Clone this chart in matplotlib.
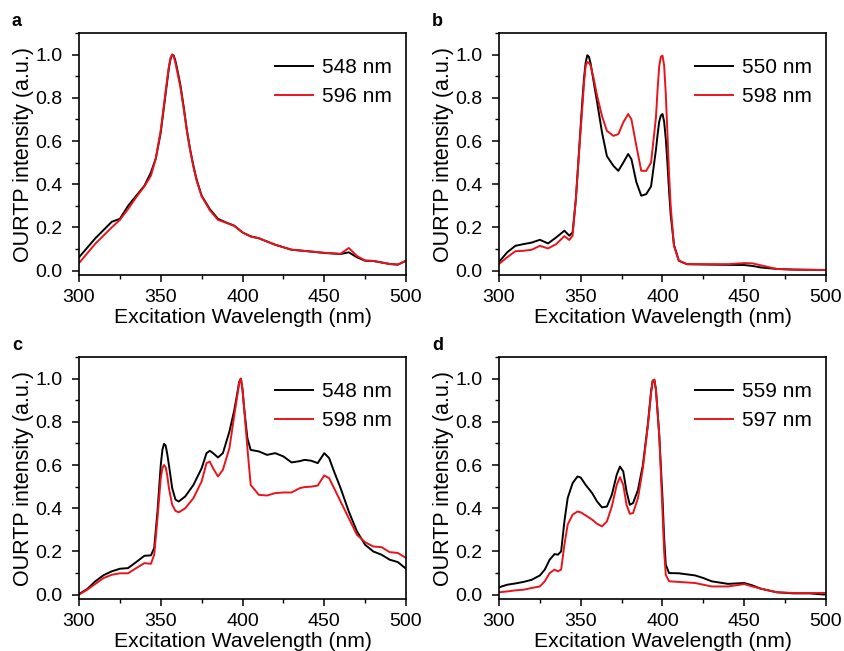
import numpy as np
import matplotlib.pyplot as plt
from matplotlib.ticker import MultipleLocator

plt.rcParams['font.family'] = ['Liberation Sans', 'DejaVu Sans']

# panel a
wl_a = [300, 310, 320, 325, 330, 335, 340, 344, 347, 350, 352, 354, 355, 356, 357, 358, 359, 360,
        362, 364, 366, 368, 370, 372, 375, 380, 385, 390, 395, 400, 405, 410, 420, 430, 440, 450,
        460, 465, 470, 475, 480, 490, 495, 500]
a_black = [0.062, 0.15, 0.226, 0.24, 0.30, 0.347, 0.393, 0.455, 0.52, 0.64, 0.76, 0.88, 0.94,
           0.98, 1.0, 0.995, 0.97, 0.935, 0.86, 0.76, 0.65, 0.56, 0.485, 0.42, 0.347, 0.285,
           0.24, 0.223, 0.208, 0.177, 0.159, 0.15, 0.12, 0.097, 0.09, 0.082, 0.077, 0.085,
           0.062, 0.046, 0.045, 0.031, 0.028, 0.046]
a_red = [0.035, 0.125, 0.2, 0.235, 0.285, 0.34, 0.39, 0.44, 0.52, 0.65, 0.77, 0.89, 0.945, 0.985,
         1.0, 0.99, 0.96, 0.925, 0.85, 0.75, 0.645, 0.555, 0.48, 0.415, 0.345, 0.28, 0.235,
         0.222, 0.207, 0.177, 0.158, 0.15, 0.12, 0.097, 0.09, 0.083, 0.078, 0.105, 0.068, 0.047,
         0.045, 0.031, 0.028, 0.046]

# panel b
wl_b = [300, 305, 310, 315, 320, 325, 330, 335, 340, 343, 345, 347, 349, 351, 352, 353, 354, 355,
        356, 358, 360, 363, 366, 370, 373, 376, 379, 381, 384, 387, 390, 393, 396, 397, 398, 399,
        400, 401, 402, 403, 404, 405, 407, 410, 415, 430, 440, 450, 455, 460, 470, 480, 500]
b_black = [0.04, 0.085, 0.115, 0.123, 0.13, 0.143, 0.126, 0.154, 0.185, 0.162, 0.177, 0.33, 0.56,
           0.79, 0.89, 0.963, 0.997, 0.99, 0.96, 0.87, 0.78, 0.64, 0.53, 0.485, 0.462, 0.50,
           0.54, 0.516, 0.41, 0.347, 0.354, 0.39, 0.56, 0.63, 0.69, 0.718, 0.725, 0.69, 0.61,
           0.50, 0.37, 0.26, 0.12, 0.046, 0.03, 0.028, 0.027, 0.026, 0.022, 0.015, 0.008,
           0.005, 0.003]
b_red = [0.031, 0.062, 0.09, 0.092, 0.097, 0.115, 0.103, 0.123, 0.16, 0.142, 0.162, 0.33, 0.55,
         0.76, 0.87, 0.947, 0.966, 0.962, 0.95, 0.886, 0.81, 0.715, 0.647, 0.624, 0.632, 0.686,
         0.725, 0.70, 0.578, 0.462, 0.462, 0.5, 0.71, 0.84, 0.947, 0.99, 0.995, 0.95, 0.82,
         0.64, 0.45, 0.30, 0.115, 0.046, 0.03, 0.03, 0.03, 0.035, 0.034, 0.025, 0.008, 0.005,
         0.003]

# panel c
wl_c = [300, 305, 310, 315, 320, 325, 330, 335, 340, 344, 346, 348, 350, 351, 352, 353, 354, 355,
        357, 359, 361, 365, 370, 375, 378, 380, 382, 385, 388, 392, 395, 397, 398, 399, 400, 401,
        403, 405, 410, 415, 420, 425, 430, 435, 438, 442, 446, 450, 453, 456, 460, 465, 470, 475,
        480, 485, 490, 495, 500]
c_black = [0.003, 0.026, 0.062, 0.09, 0.108, 0.12, 0.123, 0.151, 0.18, 0.182, 0.216, 0.385, 0.60,
           0.67, 0.698, 0.69, 0.65, 0.60, 0.493, 0.44, 0.431, 0.455, 0.508, 0.585, 0.655, 0.666,
           0.655, 0.635, 0.655, 0.755, 0.855, 0.94, 0.985, 1.0, 0.95, 0.863, 0.724, 0.67,
           0.663, 0.647, 0.655, 0.64, 0.612, 0.618, 0.624, 0.62, 0.609, 0.655, 0.632, 0.57,
           0.493, 0.385, 0.293, 0.231, 0.2, 0.185, 0.162, 0.151, 0.12]
c_red = [0.0, 0.023, 0.05, 0.077, 0.092, 0.099, 0.099, 0.123, 0.146, 0.143, 0.185, 0.354, 0.539,
         0.585, 0.60, 0.59, 0.55, 0.493, 0.416, 0.388, 0.381, 0.40, 0.447, 0.524, 0.609, 0.616,
         0.585, 0.547, 0.578, 0.678, 0.832, 0.93, 0.985, 1.0, 0.95, 0.863, 0.678, 0.508, 0.462,
         0.459, 0.47, 0.473, 0.473, 0.493, 0.498, 0.5, 0.505, 0.552, 0.539, 0.493, 0.431,
         0.354, 0.277, 0.243, 0.223, 0.22, 0.197, 0.193, 0.17]

# panel d
wl_d = [300, 305, 310, 315, 320, 325, 328, 331, 334, 336, 338, 340, 342, 345, 348, 350, 353, 357,
        360, 363, 366, 369, 372, 374, 376, 378, 380, 382, 385, 388, 391, 393, 394, 395, 396, 398,
        400, 401, 402, 404, 410, 420, 425, 430, 440, 450, 455, 460, 470, 480, 490, 500]
d_black = [0.034, 0.046, 0.052, 0.059, 0.069, 0.089, 0.116, 0.162, 0.188, 0.185, 0.2, 0.339,
           0.447, 0.516, 0.547, 0.542, 0.508, 0.47, 0.431, 0.404, 0.408, 0.462, 0.555, 0.593,
           0.57, 0.478, 0.416, 0.424, 0.485, 0.6, 0.786, 0.94, 0.99, 0.995, 0.948, 0.74, 0.447,
           0.262, 0.139, 0.1, 0.099, 0.089, 0.077, 0.062, 0.05, 0.054, 0.043, 0.028, 0.011,
           0.006, 0.006, 0.0]
d_red = [0.011, 0.015, 0.02, 0.023, 0.031, 0.038, 0.062, 0.1, 0.116, 0.108, 0.116, 0.231, 0.324,
         0.37, 0.385, 0.381, 0.367, 0.347, 0.328, 0.316, 0.339, 0.408, 0.508, 0.544, 0.508,
         0.416, 0.374, 0.378, 0.447, 0.585, 0.778, 0.932, 0.99, 0.995, 0.948, 0.74, 0.385, 0.2,
         0.092, 0.062, 0.059, 0.054, 0.046, 0.038, 0.038, 0.049, 0.038, 0.028, 0.011, 0.008,
         0.008, 0.008]

panels = [
    ('a', wl_a, a_black, a_red, '548 nm', '596 nm'),
    ('b', wl_b, b_black, b_red, '550 nm', '598 nm'),
    ('c', wl_c, c_black, c_red, '548 nm', '598 nm'),
    ('d', wl_d, d_black, d_red, '559 nm', '597 nm'),
]

fig = plt.figure(figsize=(8.45, 6.51), dpi=100)
lefts = [79, 499, 79, 499]
bottoms = [275, 275, 599, 599]
w, h = 327, 242
red = '#e8141c'

for (letter, wl, yb, yr, lb, lr), l, b in zip(panels, lefts, bottoms):
    ax = fig.add_axes([l / 845, (651 - b) / 651, w / 845, h / 651])
    ax.plot(wl, yb, color='black', lw=1.4, label=lb)
    ax.plot(wl, yr, color=red, lw=1.4, label=lr)
    ax.set_xlim(300, 500)
    ax.set_ylim(-0.02, 1.1)
    ax.xaxis.set_major_locator(MultipleLocator(50))
    ax.xaxis.set_minor_locator(MultipleLocator(25))
    ax.yaxis.set_major_locator(MultipleLocator(0.2))
    ax.yaxis.set_minor_locator(MultipleLocator(0.1))
    ax.tick_params(which='major', direction='out', length=5, width=1.1, labelsize=14)
    ax.tick_params(axis='x', which='major', pad=5)
    ax.tick_params(axis='y', which='major', pad=7)
    ax.tick_params(which='minor', direction='out', length=3, width=1.0)
    for s in ax.spines.values():
        s.set_linewidth(1.2)
    ax.set_xlabel('Excitation Wavelength (nm)', fontsize=15.2, labelpad=1.5)
    ax.set_ylabel('OURTP intensity (a.u.)', fontsize=15.5, labelpad=1)
    ax.legend(loc='upper right', frameon=False, fontsize=15, handlelength=1.8,
              handletextpad=0.45, labelspacing=0.5, bbox_to_anchor=(1.015, 0.975))
    fig.text((l - 67) / 845, (651 - (b - 254)) / 651, letter, fontsize=13, fontweight='bold',
             va='center', ha='left')

fig.savefig('out.png', dpi=100)
